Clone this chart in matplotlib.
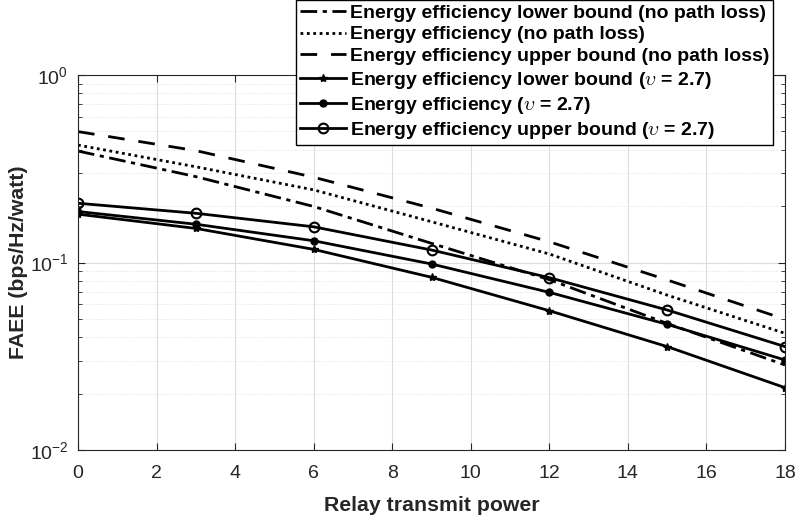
import numpy as np
import matplotlib
matplotlib.use("Agg")
import matplotlib.pyplot as plt

plt.rcParams["font.family"] = ["Liberation Sans", "DejaVu Sans"]
plt.rcParams["mathtext.fontset"] = "cm"

power = [0, 3, 6, 9, 12, 15, 18]

ee_lb_nopl = [0.393, 0.287, 0.199, 0.1265, 0.081, 0.0473, 0.0284]
ee_nopl = [0.423, 0.324, 0.244, 0.165, 0.111, 0.067, 0.0419]
ee_ub_nopl = [0.499, 0.395, 0.285, 0.195, 0.129, 0.0807, 0.0498]
ee_lb_pl = [0.181, 0.152, 0.1175, 0.0834, 0.0553, 0.0356, 0.0215]
ee_pl = [0.187, 0.160, 0.1306, 0.0982, 0.0693, 0.0468, 0.0302]
ee_ub_pl = [0.207, 0.183, 0.155, 0.1166, 0.083, 0.0558, 0.0356]

labels = [
    "Energy efficiency lower bound (no path loss)",
    "Energy efficiency (no path loss)",
    "Energy efficiency upper bound (no path loss)",
    r"Energy efficiency lower bound ($\upsilon$ = 2.7)",
    r"Energy efficiency ($\upsilon$ = 2.7)",
    r"Energy efficiency upper bound ($\upsilon$ = 2.7)",
]

fig = plt.figure(figsize=(7.99, 5.22), dpi=100)
ax = fig.add_axes([78/799, 72/522, 707/799, 375/522])

lw = 2
ax.plot(power, ee_lb_nopl, color="k", lw=lw, linestyle=(0, (6, 2, 1.5, 2)), label=labels[0])
ax.plot(power, ee_nopl, color="k", lw=lw, linestyle=(0, (1, 1.3)), label=labels[1])
ax.plot(power, ee_ub_nopl, color="k", lw=lw, linestyle=(0, (6, 5)), label=labels[2])
ax.plot(power, ee_lb_pl, color="k", lw=lw, marker="*", ms=6, label=labels[3])
ax.plot(power, ee_pl, color="k", lw=lw, marker="o", ms=5, label=labels[4])
ax.plot(power, ee_ub_pl, color="k", lw=lw, marker="o", ms=7, mfc="none", mew=1.5, label=labels[5])

ax.set_yscale("log")
ax.set_xlim(0, 18)
ax.set_ylim(1e-2, 1)
ax.set_xticks(range(0, 19, 2))
ax.grid(True, which="major", color="#dcdcdc", lw=0.8)
ax.grid(True, which="minor", axis="y", color="#dcdcdc", lw=0.6, linestyle=":")
ax.set_axisbelow(True)
ax.tick_params(which="both", direction="in", top=True, right=True, labelsize=14, colors="#262626")
ax.tick_params(axis="x", pad=11)
ax.tick_params(axis="y", pad=7)
ax.tick_params(which="major", length=5)
ax.tick_params(which="minor", length=3)
for s in ax.spines.values():
    s.set_color("#262626")
    s.set_linewidth(0.8)

ax.set_xlabel("Relay transmit power", fontsize=15.3, fontweight="bold", color="#262626", labelpad=10)
ax.set_ylabel("FAEE (bps/Hz/watt)", fontsize=15.3, fontweight="bold", color="#262626", labelpad=1)

leg = ax.legend(loc="upper right", bbox_to_anchor=(773/799, 1.0), bbox_transform=fig.transFigure,
                prop={"weight": "bold", "size": 14}, fancybox=False, edgecolor="k",
                framealpha=1, handlelength=2.35, handletextpad=0.2, borderpad=0.2,
                labelspacing=0.22, borderaxespad=0)
leg.get_frame().set_linewidth(1.0)

fig.savefig("out.png", dpi=100)
